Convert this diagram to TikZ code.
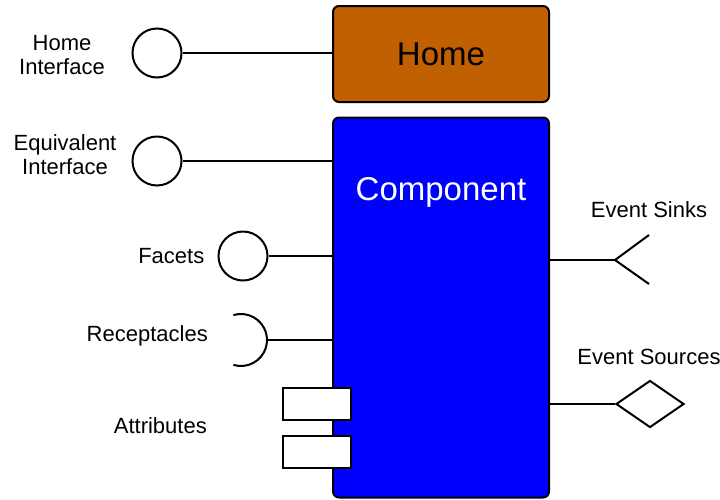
\documentclass[tikz,border=0pt]{standalone}
\usepackage{fontspec}
\setmainfont{Liberation Sans}
\usepackage{tikz}
\usetikzlibrary{calc,positioning,shapes.geometric}

\definecolor{homebrown}{RGB}{192,96,0}
\definecolor{compblue}{RGB}{0,0,255}

\tikzset{
  homebox/.style={draw, line width=2pt, rounded corners=6pt, fill=homebrown,
    minimum width=216pt, minimum height=96pt, inner sep=0pt,
    font=\fontsize{33}{38}\selectfont},
  compbox/.style={draw, line width=2pt, rounded corners=6pt, fill=compblue,
    minimum width=216pt, minimum height=380pt, inner sep=0pt},
  iface/.style={draw, circle, line width=2pt, minimum size=49pt, inner sep=0pt},
  attrbox/.style={draw, fill=white, line width=2pt, minimum width=68pt,
    minimum height=32pt, inner sep=0pt},
  srcport/.style={draw, diamond, line width=2pt, fill=white, minimum width=68pt,
    minimum height=47pt, inner sep=0pt},
  lbl/.style={font=\fontsize{22}{24}\selectfont, align=center, inner sep=0pt},
  wire/.style={line width=1.5pt},
}

\begin{document}
\begin{tikzpicture}[x=1pt,y=-1pt]
    \useasboundingbox (0,0) rectangle (720,499);

    % the two boxes
    \node[homebox] (home) at (441,54) {Home};
    \node[compbox] (comp) at (441,307.5) {};
    \node (compname) at ($(comp.north)+(0,76)$)
      [font=\fontsize{33}{38}\selectfont, text=white] {Component};

    % ports on the left
    \node[iface] (hiface) at (157,53) {};
    \node[iface] (eqiface) at (157,161) {};
    \node[iface] (facet) at (243,256) {};
    \coordinate (recep) at (241,340);

    \draw[wire] (hiface) -- (hiface -| home.west);
    \draw[wire] (eqiface) -- (eqiface -| comp.west);
    \draw[wire] (facet) -- (facet -| comp.west);

    \draw[line width=2pt] ($(recep)+(107:26)$) arc[start angle=107, end angle=-107, radius=26];
    \coordinate (recepend) at ($(recep)+(26,0)$);
    \draw[wire] (recepend) -- (recepend -| comp.west);

    \node[attrbox] (attrA) at (317,404) {};
    \node[attrbox] (attrB) at (317,452) {};

    % ports on the right
    \coordinate (sink) at (615,260);
    \coordinate (sinkup) at (649,235);
    \coordinate (sinkdown) at (649,284);
    \draw[wire] (sink -| comp.east) -- (sink);
    \draw[line width=2pt] (sinkup) -- (sink) -- (sinkdown);

    \node[srcport] (source) at (650,404) {};
    \draw[wire] (source -| comp.east) -- (source.west);

    % labels
    \node[lbl] (hifacelbl) at (62,55) {Home\\Interface};
    \node[lbl] (eqifacelbl) at (65,155) {Equivalent\\Interface};
    \node[lbl, left=13pt of facet] (facetlbl) {Facets};
    \node[lbl, anchor=east] (receplbl) at (208,336) {Receptacles};
    \node[lbl, anchor=east] (attrlbl) at (207,426) {Attributes};
    \node[lbl] (sinklbl) at (649,210) {Event Sinks};
    \node[lbl] (sourcelbl) at (649,357) {Event Sources};
\end{tikzpicture}
\end{document}
